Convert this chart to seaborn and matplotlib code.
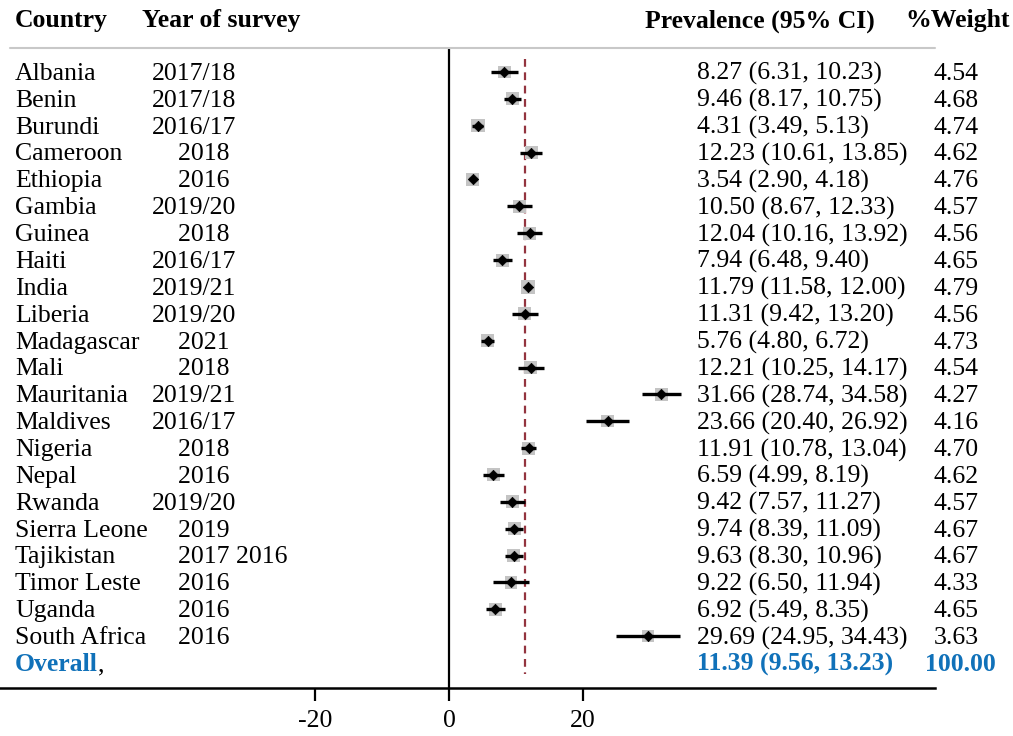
import numpy as np
import pandas as pd
import seaborn as sns
import matplotlib.pyplot as plt
import matplotlib.transforms as mtransforms

##################### data

countries = ['Albania', 'Benin', 'Burundi', 'Cameroon', 'Ethiopia', 'Gambia', 'Guinea',
             'Haiti', 'India', 'Liberia', 'Madagascar', 'Mali', 'Mauritania', 'Maldives',
             'Nigeria', 'Nepal', 'Rwanda', 'Sierra Leone', 'Tajikistan', 'Timor Leste',
             'Uganda', 'South Africa']
years = ['2017/18', '2017/18', '2016/17', '2018', '2016', '2019/20', '2018',
         '2016/17', '2019/21', '2019/20', '2021', '2018', '2019/21', '2016/17',
         '2018', '2016', '2019/20', '2019', '2017 2016', '2016', '2016', '2016']
estimate = [8.27, 9.46, 4.31, 12.23, 3.54, 10.50, 12.04, 7.94, 11.79, 11.31, 5.76,
            12.21, 31.66, 23.66, 11.91, 6.59, 9.42, 9.74, 9.63, 9.22, 6.92, 29.69]
lower = [6.31, 8.17, 3.49, 10.61, 2.90, 8.67, 10.16, 6.48, 11.58, 9.42, 4.80,
         10.25, 28.74, 20.40, 10.78, 4.99, 7.57, 8.39, 8.30, 6.50, 5.49, 24.95]
upper = [10.23, 10.75, 5.13, 13.85, 4.18, 12.33, 13.92, 9.40, 12.00, 13.20, 6.72,
         14.17, 34.58, 26.92, 13.04, 8.19, 11.27, 11.09, 10.96, 11.94, 8.35, 34.43]
weight = [4.54, 4.68, 4.74, 4.62, 4.76, 4.57, 4.56, 4.65, 4.79, 4.56, 4.73,
          4.54, 4.27, 4.16, 4.70, 4.62, 4.57, 4.67, 4.67, 4.33, 4.65, 3.63]
overall = [11.39, 9.56, 13.23]
overall_weight = 100.00
xticks = [-20, 0, 20]

df = pd.DataFrame({'country': countries, 'year': years, 'est': estimate,
                   'lo': lower, 'hi': upper, 'weight': weight})
df['row'] = np.arange(len(df))
n = len(df)

#####################

sns.set_style('white')
plt.rcParams['font.family'] = ['Liberation Serif', 'DejaVu Serif']
plt.rcParams['axes.unicode_minus'] = False
plt.rcParams['text.color'] = 'black'
fs = 18.5
blue = '#1071b9'
dy = 0.07  # nudge text down to sit on the row like the reference

fig = plt.figure(figsize=(10.13, 7.36), dpi=100)
ax = fig.add_axes([0, 1 - 688 / 736, 935 / 1013, (688 - 48) / 736])

# grey weight boxes, area proportional to weight
sns.scatterplot(data=df, x='est', y='row', size='weight', sizes=(0, 1900),
                size_norm=(0, 100), marker='s', color='#c4c4c4', edgecolor='none',
                legend=False, ax=ax, zorder=2)
# confidence intervals
ax.hlines(df['row'], df['lo'], df['hi'], color='black', lw=2.4, zorder=3)
# point estimates
sns.scatterplot(data=df, x='est', y='row', marker='D', color='black', s=28,
                edgecolor='black', linewidth=0.5, legend=False, ax=ax, zorder=4)

# overall line and null line
ax.plot([overall[0], overall[0]], [-0.5, n + 0.4], color='#93343f', lw=1.6,
        ls=(0, (3.5, 2.5)), zorder=1)
ax.axvline(0, color='black', lw=1.6, zorder=1)

ax.set_xlim(-67, 72.5)
ax.set_ylim(n + 0.93, -0.894)
ax.set_yticks([])
ax.set_xticks(xticks)
ax.set_xticklabels([str(t) for t in xticks], fontsize=fs, color='black')
ax.tick_params(axis='x', direction='out', length=9, width=1.6, pad=7, colors='black',
               bottom=True)
for side in ['top', 'left', 'right']:
    ax.spines[side].set_visible(False)
ax.spines['bottom'].set_color('black')
ax.spines['bottom'].set_linewidth(1.8)
ax.set_xlabel('')
ax.set_ylabel('')
ax.axhline(-0.894, xmin=10 / 935, xmax=1, color='#c8c8c8', lw=1.5, clip_on=False)

# text columns
trans = mtransforms.blended_transform_factory(fig.transFigure, ax.transData)
px = lambda p: p / 1013
for i, r in df.iterrows():
    y = r['row'] + dy
    ax.text(px(15), y, r['country'], transform=trans, fontsize=fs, va='center')
    yr = r['year'] if '/' in r['year'] else '    ' + r['year']
    ax.text(px(152), y, yr, transform=trans, fontsize=fs, va='center')
    ax.text(px(697), y, f"{r['est']:.2f} ({r['lo']:.2f}, {r['hi']:.2f})",
            transform=trans, fontsize=fs, va='center')
    ax.text(px(956), y, f"{r['weight']:.2f}", transform=trans, fontsize=fs,
            va='center', ha='center')

t = ax.text(px(15), n + dy, 'Overall', transform=trans, fontsize=fs, va='center',
            color=blue, fontweight='bold')
ax.annotate(',', xycoords=t, xy=(1, 0), va='bottom', fontsize=fs, color='black')
ax.text(px(697), n + dy, f"{overall[0]:.2f} ({overall[1]:.2f}, {overall[2]:.2f})",
        transform=trans, fontsize=fs, va='center', color=blue, fontweight='bold')
ax.text(px(960), n + dy, f"{overall_weight:.2f}", transform=trans, fontsize=fs,
        va='center', ha='center', color=blue, fontweight='bold')

# headers
hy = 1 - 21 / 736
fig.text(px(15), hy, 'Country', fontsize=fs, fontweight='bold', va='center')
fig.text(px(142), hy, 'Year of survey', fontsize=fs, fontweight='bold', va='center')
fig.text(px(645), hy, 'Prevalence (95% CI)', fontsize=fs, fontweight='bold', va='center')
fig.text(px(905), hy, '%Weight', fontsize=fs, fontweight='bold', va='center')

fig.savefig('out.png', dpi=100)
